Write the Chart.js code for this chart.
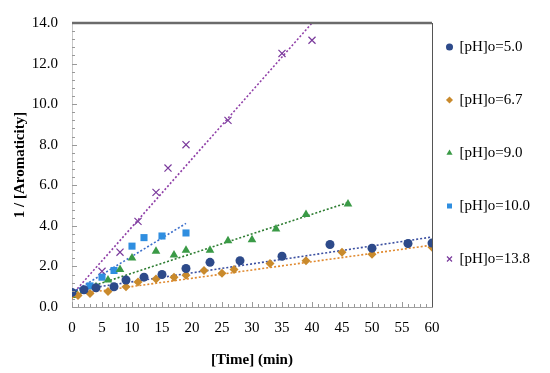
<!DOCTYPE html>
<html>
<head>
<meta charset="utf-8">
<script src="https://cdn.jsdelivr.net/npm/chart.js@4/dist/chart.umd.min.js"></script>
<style>
  html, body { margin: 0; padding: 0; background: #fff; }
  #wrap { width: 550px; height: 373px; }
</style>
</head>
<body>
<div id="wrap"><canvas id="c" width="550" height="373"></canvas></div>
<script>
// measured points, time (min) vs 1/[Aromaticity]
const ph50X = [0, 2, 4, 7, 9, 12, 15, 19, 23, 28, 35, 43, 50, 56, 60];
const ph50Y = [0.72, 0.85, 0.95, 1.0, 1.33, 1.47, 1.6, 1.9, 2.2, 2.28, 2.5, 3.08, 2.9, 3.13, 3.15];

const ph67X = [0, 1, 3, 6, 9, 11, 14, 17, 19, 22, 25, 27, 33, 39, 45, 50, 56, 60];
const ph67Y = [0.6, 0.57, 0.66, 0.76, 1.0, 1.23, 1.38, 1.47, 1.57, 1.8, 1.66, 1.85, 2.14, 2.28, 2.7, 2.6, 3.1, 2.95];

const ph90X = [0, 2, 4, 6, 8, 10, 14, 17, 19, 23, 26, 30, 34, 39, 46];
const ph90Y = [0.57, 0.8, 1.0, 1.33, 1.85, 2.42, 2.75, 2.56, 2.8, 2.8, 3.27, 3.32, 3.84, 4.56, 5.08];

const ph100X = [0, 3, 5, 7, 10, 12, 15, 19];
const ph100Y = [0.66, 1.04, 1.47, 1.8, 3.0, 3.42, 3.5, 3.65];

const ph138X = [0, 5, 8, 11, 14, 16, 19, 26, 35, 40];
const ph138Y = [0.65, 1.76, 2.7, 4.22, 5.65, 6.85, 8.0, 9.2, 12.5, 13.15];

// linear trend lines (start, end)
const trend50 = { x: [0, 60], y: [0.8, 3.45] };
const trend67 = { x: [0, 60], y: [0.6, 3.05] };
const trend90 = { x: [0, 46], y: [0.7, 5.15] };
const trend100 = { x: [0, 19], y: [0.7, 4.12] };
const trend138 = { x: [0, 40], y: [0.6, 14.0] };

const labels = ['[pH]o=5.0', '[pH]o=6.7', '[pH]o=9.0', '[pH]o=10.0', '[pH]o=13.8'];

const pts = (xs, ys) => xs.map((x, i) => ({ x, y: ys[i] }));

function series(label, xs, ys, color, style, r) {
  return {
    label, data: pts(xs, ys), showLine: false,
    pointStyle: style, pointRadius: r, pointHoverRadius: r,
    backgroundColor: color, borderColor: color, borderWidth: style === 'cross' ? 1.2 : 0,
    rotation: style === 'cross' ? 45 : 0
  };
}
function trend(t, color) {
  return {
    label: 'trend', data: pts(t.x, t.y), showLine: true, pointRadius: 0,
    borderColor: color, borderWidth: 1.6, borderDash: [2, 2], fill: false
  };
}

// inward minor ticks + frame top/right
const frame = {
  id: 'frame',
  afterLayout(chart) {
    // nudge legend closer to the plot and up, like the original
    const lg = chart.legend;
    lg.left -= 23;
    lg.top -= 10.5;
  },
  afterDatasetsDraw(chart) {
    const { ctx, chartArea: a, scales: { x, y } } = chart;
    ctx.save();
    ctx.strokeStyle = '#999';
    ctx.lineWidth = 1;
    ctx.beginPath();
    for (let v = 0; v <= 60; v++) {
      const px = Math.round(x.getPixelForValue(v)) + 0.5;
      const len = v % 5 === 0 ? 5 : 3;
      ctx.moveTo(px, a.bottom); ctx.lineTo(px, a.bottom - len);
    }
    for (let i = 0; i <= 35; i++) {
      const v = i * 0.4;
      const py = Math.round(y.getPixelForValue(v)) + 0.5;
      const len = i % 5 === 0 ? 5 : 3;
      ctx.moveTo(a.left, py); ctx.lineTo(a.left + len, py);
    }
    ctx.stroke();
    ctx.strokeStyle = '#6b6b6b';
    ctx.lineWidth = 2.5;
    ctx.beginPath();
    ctx.moveTo(a.left, a.top); ctx.lineTo(a.right, a.top);
    ctx.stroke();
    ctx.strokeStyle = '#555';
    ctx.lineWidth = 1;
    ctx.beginPath();
    ctx.moveTo(Math.round(a.right) + 0.5, a.top); ctx.lineTo(Math.round(a.right) + 0.5, a.bottom);
    ctx.stroke();
    ctx.restore();
  }
};

new Chart(document.getElementById('c').getContext('2d'), {
  type: 'scatter',
  data: {
    datasets: [
      series(labels[0], ph50X, ph50Y, '#2d4a8a', 'circle', 4.5),
      series(labels[1], ph67X, ph67Y, '#c98a2c', 'rectRot', 4.5),
      series(labels[2], ph90X, ph90Y, '#3a9a46', 'triangle', 5),
      series(labels[3], ph100X, ph100Y, '#2f8ee0', 'rect', 5),
      series(labels[4], ph138X, ph138Y, '#7a3a9c', 'cross', 5),
      trend(trend50, '#3b4fa0'),
      trend(trend67, '#e0892e'),
      trend(trend90, '#2e7d32'),
      trend(trend100, '#3d6fcb'),
      trend(trend138, '#9040a8')
    ]
  },
  options: {
    responsive: false,
    animation: false,
    layout: { padding: { top: 12, right: 0, left: 0, bottom: 0 } },
    plugins: {
      tooltip: { enabled: false },
      legend: {
        position: 'right',
        align: 'start',
        maxWidth: 118,
        labels: {
          filter: item => item.datasetIndex < 5,
          usePointStyle: true,
          boxWidth: 5, boxHeight: 5,
          padding: 38,
          color: '#000',
          font: { family: 'Liberation Serif', size: 15 }
        }
      }
    },
    scales: {
      x: {
        type: 'linear', min: 0, max: 60,
        afterFit: s => { s.height = 66; },
        border: { color: '#a0a0a0' },
        grid: { display: false, drawTicks: false },
        ticks: { stepSize: 5, padding: 12, color: '#000', font: { family: 'Liberation Serif', size: 15 } },
        title: { display: true, text: '[Time] (min)', color: '#000', padding: { top: 6 },
          font: { family: 'Liberation Serif', size: 15, weight: 'bold' } }
      },
      y: {
        type: 'linear', min: 0, max: 14,
        afterFit: s => { s.width = 72; },
        border: { color: '#c8c8c8' },
        grid: { display: false, drawTicks: false },
        ticks: { stepSize: 2, padding: 14, color: '#000', callback: v => v.toFixed(1),
          font: { family: 'Liberation Serif', size: 15 } },
        title: { display: true, text: '1 / [Aromaticity]', color: '#000', padding: { top: 11, bottom: 0 },
          font: { family: 'Liberation Serif', size: 15, weight: 'bold' } }
      }
    }
  },
  plugins: [frame]
});
</script>
</body>
</html>
